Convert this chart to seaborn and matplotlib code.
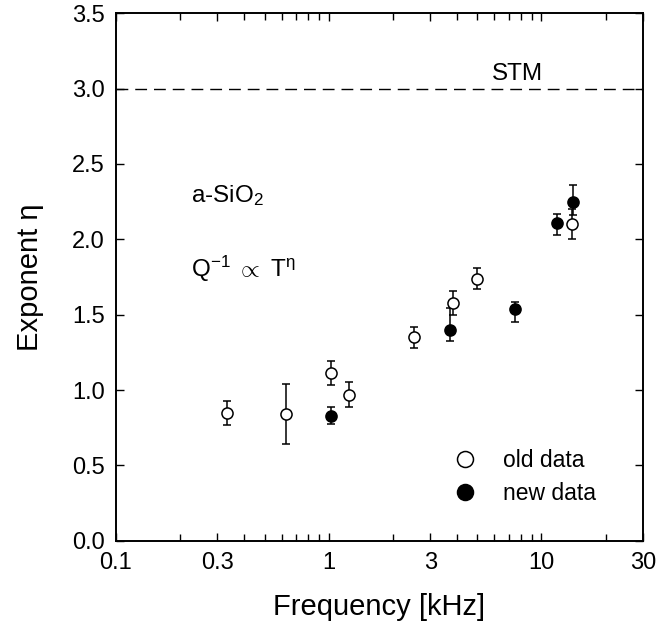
import numpy as np
import pandas as pd
import matplotlib
matplotlib.use("Agg")
import matplotlib.pyplot as plt
import seaborn as sns
from matplotlib.lines import Line2D
from matplotlib.ticker import FixedLocator, NullFormatter

# ---- data ----
old_freq = [0.334, 0.63, 1.02, 1.24, 2.51, 3.83, 4.99, 13.9]
old_eta = [0.85, 0.84, 1.11, 0.97, 1.35, 1.58, 1.74, 2.10]
old_err_lo = [0.08, 0.20, 0.08, 0.08, 0.07, 0.08, 0.07, 0.10]
old_err_hi = [0.08, 0.20, 0.08, 0.08, 0.07, 0.08, 0.07, 0.10]

new_freq = [1.03, 3.70, 7.47, 11.8, 14.0]
new_eta = [0.83, 1.40, 1.535, 2.105, 2.25]
new_err_lo = [0.055, 0.075, 0.085, 0.075, 0.09]
new_err_hi = [0.06, 0.145, 0.05, 0.06, 0.11]

stm_level = 3.0
xticks = [0.1, 0.3, 1, 3, 10, 30]
xticklabels = ["0.1", "0.3", "1", "3", "10", "30"]
yticks = [0.0, 0.5, 1.0, 1.5, 2.0, 2.5, 3.0, 3.5]
legend_labels = ["old data", "new data"]

old_df = pd.DataFrame({"freq": old_freq, "eta": old_eta})
new_df = pd.DataFrame({"freq": new_freq, "eta": new_eta})

sns.set_style("ticks")
plt.rcParams["font.family"] = ["Liberation Sans", "DejaVu Sans"]
plt.rcParams["mathtext.fontset"] = "custom"
plt.rcParams["mathtext.rm"] = "Liberation Sans"
plt.rcParams["mathtext.it"] = "Liberation Sans"
plt.rcParams["text.color"] = "black"
plt.rcParams["axes.labelcolor"] = "black"
plt.rcParams["axes.edgecolor"] = "black"
plt.rcParams["xtick.color"] = "black"
plt.rcParams["ytick.color"] = "black"

fig = plt.figure(figsize=(6.59, 6.24), dpi=100)
ax = fig.add_axes([0.176, 0.1335, 0.7997, 0.8452])

# STM dashed line
ax.axhline(stm_level, color="black", lw=1.0, dashes=(8.5, 5), zorder=1)
ax.text(7.7, 3.06, "STM", fontsize=17.5, ha="center", va="baseline")

# error bars
ax.errorbar(old_freq, old_eta, yerr=[old_err_lo, old_err_hi], fmt="none",
            ecolor="black", elinewidth=1.1, capsize=2.9, capthick=1.1, zorder=2)
ax.errorbar(new_freq, new_eta, yerr=[new_err_lo, new_err_hi], fmt="none",
            ecolor="black", elinewidth=1.1, capsize=2.9, capthick=1.1, zorder=2)

# points
sns.scatterplot(data=old_df, x="freq", y="eta", ax=ax, marker="o", s=64,
                facecolor="white", edgecolor="black", linewidth=1.1, zorder=3)
sns.scatterplot(data=new_df, x="freq", y="eta", ax=ax, marker="o", s=64,
                facecolor="black", edgecolor="black", linewidth=1.1, zorder=3)

ax.set_xscale("log")
ax.set_xlim(0.1, 30)
ax.set_ylim(0, 3.5)
ax.set_xticks(xticks)
ax.set_xticklabels(xticklabels)
ax.xaxis.set_minor_locator(FixedLocator(
    [m * d for d in [0.1, 1, 10] for m in range(2, 10) if m * d < 30 and m != 3]))
ax.xaxis.set_minor_formatter(NullFormatter())
ax.set_yticks(yticks)
ax.set_yticklabels([f"{v:.1f}" for v in yticks])

ax.tick_params(axis="both", which="major", direction="in", length=6, width=1.0,
               top=True, right=True, labelsize=17)
ax.tick_params(axis="x", which="major", pad=8)
ax.tick_params(axis="y", which="major", pad=8)
ax.tick_params(axis="both", which="minor", direction="in", length=5, width=1.0,
               top=True, right=True)
for s in ax.spines.values():
    s.set_linewidth(1.4)
    s.set_visible(True)

ax.set_xlabel("Frequency [kHz]", fontsize=21, labelpad=14)
ax.set_ylabel("Exponent η", fontsize=21, labelpad=20)

# annotations
ax.text(0.226, 2.244, r"a-SiO$_2$", fontsize=17.5, ha="left", va="baseline")
ax.text(0.226, 1.753, r"Q$^{-1}$ $\propto$ T$^{\eta}$", fontsize=17.5, ha="left", va="baseline")

handles = [
    Line2D([], [], ls="none", marker="o", markersize=11.5, markerfacecolor="white",
           markeredgecolor="black", markeredgewidth=1.1),
    Line2D([], [], ls="none", marker="o", markersize=11.5, markerfacecolor="black",
           markeredgecolor="black", markeredgewidth=1.1),
]
ax.legend(handles, legend_labels, loc="center left", bbox_to_anchor=(0.6326, 0.1208),
          frameon=False, fontsize=16.5, handlelength=1.4, handletextpad=0.95,
          borderpad=0, borderaxespad=0, labelspacing=0.45)

fig.savefig("out.png", dpi=100)
